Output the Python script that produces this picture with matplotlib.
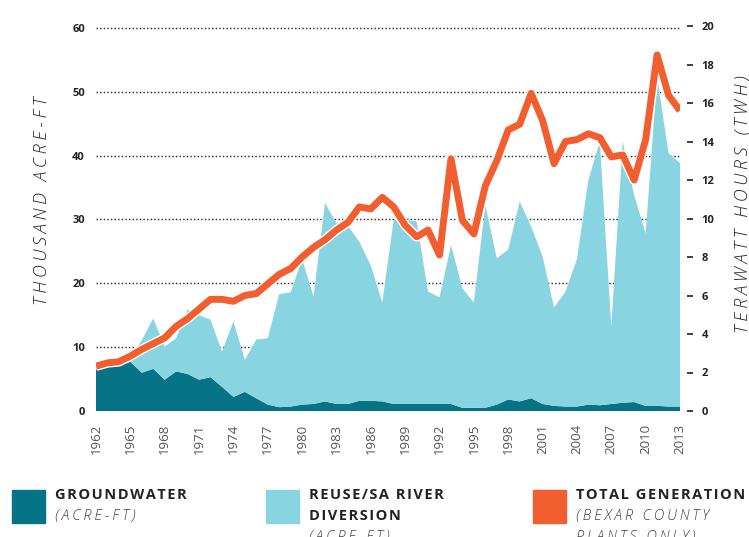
import matplotlib
matplotlib.use('Agg')
import matplotlib.pyplot as plt
import matplotlib.patheffects as pe
from matplotlib.patches import Rectangle

plt.rcParams['font.family'] = ['Open Sans', 'DejaVu Sans']

# Data
years = list(range(1962, 2014))
groundwater = [6.4, 6.9, 7.1, 7.7, 6.0, 6.6, 4.9, 6.2, 5.8, 4.9,
               5.3, 3.8, 2.2, 3.0, 2.0, 1.0, 0.6, 0.7, 1.0, 1.1,
               1.5, 1.1, 1.1, 1.6, 1.6, 1.5, 1.1, 1.1, 1.1, 1.1,
               1.1, 1.1, 0.5, 0.5, 0.5, 1.0, 1.8, 1.5, 2.0, 1.1,
               0.8, 0.7, 0.7, 1.0, 0.9, 1.1, 1.3, 1.4, 0.8, 0.8,
               0.7, 0.7]
reuse = [0.5, 0.4, 0.4, 0.6, 5.1, 7.9, 5.2, 5.2, 10.1, 10.1,
         9.0, 5.5, 11.8, 5.0, 9.2, 10.4, 17.7, 17.9, 22.8, 16.8,
         31.1, 28.3, 27.9, 24.9, 21.2, 15.5, 28.9, 28.8, 28.6, 17.6,
         16.7, 24.9, 18.7, 16.5, 31.8, 22.9, 23.5, 31.3, 26.9, 23.1,
         15.4, 18.0, 23.1, 35.2, 41.3, 12.1, 40.9, 32.4, 27.0, 51.6,
         39.7, 38.1]
generation = [2.33, 2.5, 2.56, 2.85, 3.2, 3.5, 3.8, 4.4, 4.8, 5.3,
              5.8, 5.8, 5.7, 6.0, 6.1, 6.6, 7.1, 7.4, 8.0, 8.5,
              8.9, 9.4, 9.8, 10.6, 10.5, 11.1, 10.6, 9.65, 9.05, 9.4,
              8.1, 13.1, 9.9, 9.2, 11.7, 13.0, 14.6, 14.9, 16.5, 15.1,
              12.85, 14.0, 14.1, 14.4, 14.2, 13.2, 13.3, 12.0, 14.1, 18.5,
              16.4, 15.6]
year_ticks = list(range(1962, 2014, 3))
left_ticks = [0, 10, 20, 30, 40, 50, 60]
right_ticks = list(range(0, 21, 2))

dark = '#077387'
light = '#89d4e1'
orange = '#f15e2f'
W, H = 749, 537


def sp(s, gap='\u200a'):
    return gap.join(s)


def fx(x):
    return x / W


def fy(y):
    return 1 - y / H


fig = plt.figure(figsize=(W / 100, H / 100), dpi=100)
ax = fig.add_axes([fx(96), fy(411), (680 - 96) / W, (411 - 26) / H])

ax.stackplot(years, groundwater, reuse, colors=[dark, light], linewidth=0, zorder=2)
ax.set_xlim(1962, 2013)
ax.set_ylim(0, 60.3)
ax.set_yticks(left_ticks)
ax.set_xticks(year_ticks)
ax.set_xticklabels([str(y) for y in year_ticks], rotation=90, fontsize=9.5,
                   color='#555555')
ax.tick_params(axis='x', length=0, pad=9)
ax.tick_params(axis='y', length=0, pad=8, labelsize=8, labelcolor='#222222')
for t in ax.get_yticklabels():
    t.set_fontweight('bold')
for s in ax.spines.values():
    s.set_visible(False)
for v in left_ticks[1:]:
    ax.axhline(v, color='#222222', lw=1, ls=(0, (1, 1.6)), zorder=1)

ax.text(-0.092, 0.545, sp('THOUSAND ACRE-FT', '\u2009'), transform=ax.transAxes,
        rotation=90, ha='center', va='center', fontsize=13, style='italic',
        fontweight='light', color='#222222')

ax2 = ax.twinx()
ax2.plot(years, generation, color=orange, lw=5, solid_joinstyle='round',
         solid_capstyle='butt', zorder=3,
         path_effects=[pe.Stroke(linewidth=7, foreground='white'), pe.Normal()])
ax2.set_ylim(0, 20)
ax2.set_yticks(right_ticks)
for s in ax2.spines.values():
    s.set_visible(False)
ax2.spines['right'].set_position(('outward', 5))
ax2.tick_params(axis='y', length=4.5, width=1.3, color='#333333', pad=6,
                labelsize=8, labelcolor='#222222')
for t in ax2.get_yticklabels():
    t.set_fontweight('bold')

fig.text(fx(743), fy(204), sp('TERAWATT HOURS (TWH)', '\u2009'), rotation=90,
         ha='center', va='center', fontsize=13, style='italic',
         fontweight='light', color='#222222')

# legend
items = [
    (12, dark, ['GROUNDWATER'], ['(ACRE-FT)']),
    (266, light, ['REUSE/SA RIVER', 'DIVERSION'], ['(ACRE-FT)']),
    (533, orange, ['TOTAL GENERATION'], ['(BEXAR COUNTY', 'PLANTS ONLY)']),
]
for x0, col, heads, subs in items:
    fig.patches.append(Rectangle((fx(x0), fy(523)), 33 / W, 33 / H,
                                 transform=fig.transFigure, color=col))
    y = 488
    for h in heads:
        fig.text(fx(x0 + 43), fy(y), sp(h), fontsize=10.5, fontweight='bold',
                 color='#222222', va='top', ha='left')
        y += 21
    for s in subs:
        fig.text(fx(x0 + 43), fy(y), sp(s, '\u2009'), fontsize=10.5,
                 style='italic', fontweight='light', color='#444444',
                 va='top', ha='left')
        y += 21

fig.savefig('out.png', dpi=100)
